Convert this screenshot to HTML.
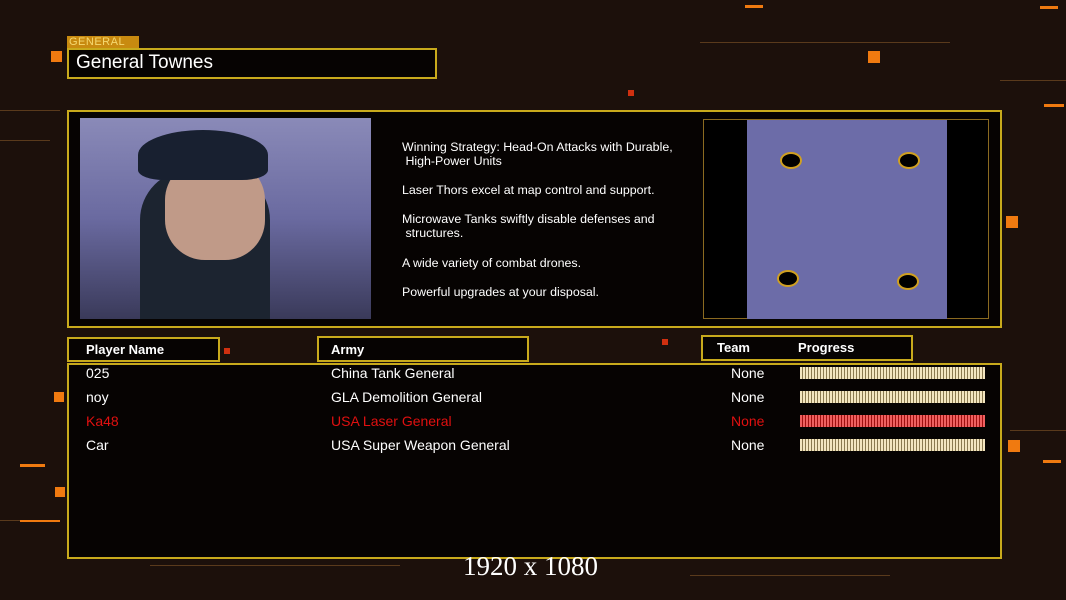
<!DOCTYPE html>
<html><head><style>
body{margin:0;width:1066px;height:600px;overflow:hidden;background:#1c100b;font-family:"Liberation Sans",sans-serif;position:relative}
.a{position:absolute}
.box{position:absolute;border:2px solid #c8aa1c;background:#060302;box-sizing:border-box}
.t{position:absolute;color:#fff;font-size:14px;white-space:nowrap}
.s{font-size:12.4px}
.bar{position:absolute;left:800px;width:185px;height:12px;background:repeating-linear-gradient(90deg,#f3e6c0 0 2px,#8a7a50 2px 3px)}
.r{color:#e01010}
.ln{position:absolute;background:#5a3a1c}
.sq{position:absolute;background:#f07a10}
</style></head><body>
<div class="ln" style="left:0;top:110px;width:60px;height:1px"></div>
<div class="ln" style="left:0;top:140px;width:50px;height:1px"></div>
<div class="ln" style="left:700px;top:42px;width:250px;height:1px"></div>
<div class="ln" style="left:1000px;top:80px;width:66px;height:1px"></div>
<div class="ln" style="left:1010px;top:430px;width:56px;height:1px"></div>
<div class="ln" style="left:150px;top:565px;width:250px;height:1px"></div>
<div class="ln" style="left:690px;top:575px;width:200px;height:1px"></div>
<div class="ln" style="left:0;top:520px;width:60px;height:1px"></div>
<div class="sq" style="left:51px;top:51px;width:11px;height:11px"></div>
<div class="sq" style="left:868px;top:51px;width:12px;height:12px"></div>
<div class="sq" style="left:1006px;top:216px;width:12px;height:12px"></div>
<div class="sq" style="left:1008px;top:440px;width:12px;height:12px"></div>
<div class="sq" style="left:55px;top:487px;width:10px;height:10px"></div>
<div class="sq" style="left:54px;top:392px;width:10px;height:10px"></div>
<div class="sq" style="left:628px;top:90px;width:6px;height:6px;background:#d03010"></div>
<div class="sq" style="left:224px;top:348px;width:6px;height:6px;background:#d03010"></div>
<div class="sq" style="left:662px;top:339px;width:6px;height:6px;background:#d03010"></div>
<div class="sq" style="left:1040px;top:6px;width:18px;height:3px"></div>
<div class="sq" style="left:745px;top:5px;width:18px;height:3px"></div>
<div class="sq" style="left:1044px;top:104px;width:20px;height:3px"></div>
<div class="sq" style="left:1043px;top:460px;width:18px;height:3px"></div>
<div class="sq" style="left:20px;top:464px;width:25px;height:3px"></div>
<div class="sq" style="left:20px;top:520px;width:40px;height:2px"></div>

<div class="a" style="left:67px;top:36px;width:70px;height:13px;background:#c88a10;color:#f5d870;font-size:11px;line-height:13px;padding-left:2px;letter-spacing:.5px">GENERAL</div>
<div class="box" style="left:67px;top:48px;width:370px;height:31px"></div>
<div class="t" style="left:76px;top:52px;font-size:19px">General Townes</div>

<div class="box" style="left:67px;top:110px;width:935px;height:218px"></div>
<div class="a" style="left:80px;top:118px;width:291px;height:201px;background:linear-gradient(180deg,#8a8ab8 0%,#6a6aa0 50%,#3a3a5a 100%)"></div>
<div class="a" style="left:140px;top:170px;width:130px;height:149px;background:#1c2430;border-radius:50px 50px 0 0"></div>
<div class="a" style="left:165px;top:160px;width:100px;height:100px;background:#c09a88;border-radius:40%"></div>
<div class="a" style="left:138px;top:130px;width:130px;height:50px;background:#182030;border-radius:50% 50% 20% 20%"></div>
<div class="t s" style="left:402px;top:140px;line-height:14px">Winning Strategy: Head-On Attacks with Durable,<br>&nbsp;High-Power Units</div>
<div class="t s" style="left:402px;top:183px">Laser Thors excel at map control and support.</div>
<div class="t s" style="left:402px;top:212px;line-height:14px">Microwave Tanks swiftly disable defenses and<br>&nbsp;structures.</div>
<div class="t s" style="left:402px;top:256px">A wide variety of combat drones.</div>
<div class="t s" style="left:402px;top:285px">Powerful upgrades at your disposal.</div>
<div class="a" style="left:703px;top:119px;width:286px;height:200px;background:#000;border:1px solid #8a6a20;box-sizing:border-box"></div>
<div class="a" style="left:747px;top:120px;width:200px;height:199px;background:#6c6ca8"></div>
<div class="a" style="left:780px;top:152px;width:18px;height:13px;border:2px solid #d0a020;border-radius:50%;background:#000"></div>
<div class="a" style="left:898px;top:152px;width:18px;height:13px;border:2px solid #d0a020;border-radius:50%;background:#000"></div>
<div class="a" style="left:777px;top:270px;width:18px;height:13px;border:2px solid #d0a020;border-radius:50%;background:#000"></div>
<div class="a" style="left:897px;top:273px;width:18px;height:13px;border:2px solid #d0a020;border-radius:50%;background:#000"></div>

<div class="box" style="left:67px;top:337px;width:153px;height:25px"></div>
<div class="t" style="left:86px;top:342px;font-weight:bold;font-size:13px">Player Name</div>
<div class="box" style="left:317px;top:336px;width:212px;height:26px"></div>
<div class="t" style="left:331px;top:342px;font-weight:bold;font-size:13px">Army</div>
<div class="box" style="left:701px;top:335px;width:212px;height:26px"></div>
<div class="t" style="left:717px;top:340px;font-weight:bold;font-size:13px">Team</div>
<div class="t" style="left:798px;top:340px;font-weight:bold;font-size:13px">Progress</div>

<div class="box" style="left:67px;top:363px;width:935px;height:196px"></div>
<div class="t" style="left:86px;top:365px">025</div><div class="t" style="left:331px;top:365px">China Tank General</div><div class="t" style="left:731px;top:365px">None</div><div class="bar" style="top:367px"></div>
<div class="t" style="left:86px;top:389px">noy</div><div class="t" style="left:331px;top:389px">GLA Demolition General</div><div class="t" style="left:731px;top:389px">None</div><div class="bar" style="top:391px"></div>
<div class="t r" style="left:86px;top:413px">Ka48</div><div class="t r" style="left:331px;top:413px">USA Laser General</div><div class="t r" style="left:731px;top:413px">None</div><div class="bar" style="top:415px;background:repeating-linear-gradient(90deg,#f06060 0 2px,#a01010 2px 3px)"></div>
<div class="t" style="left:86px;top:437px">Car</div><div class="t" style="left:331px;top:437px">USA Super Weapon General</div><div class="t" style="left:731px;top:437px">None</div><div class="bar" style="top:439px"></div>

<div class="t" style="left:463px;top:551px;font-family:'Liberation Serif',serif;font-size:27px">1920 x 1080</div>
</body></html>
